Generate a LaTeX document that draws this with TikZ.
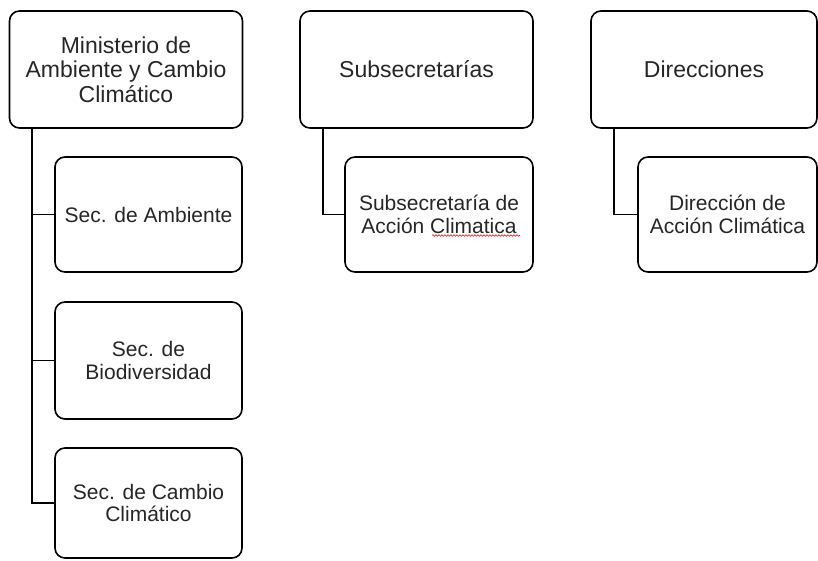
\documentclass[tikz,border=0pt]{standalone}
\usepackage{fontspec}
\setmainfont{Liberation Sans}
\usetikzlibrary{calc,decorations.pathmorphing}
\tikzset{
  box/.style={draw=black, line width=1.6pt, rounded corners=10pt, align=center,
    inner sep=0pt, text=black!85},
  parentbox/.style={box, font=\fontsize{23}{24.5}\selectfont},
  childbox/.style={box, font=\fontsize{21}{22.5}\selectfont},
  link/.style={draw=black, line width=1.6pt},
}
\begin{document}
\begin{tikzpicture}[x=1pt,y=-1pt]
\useasboundingbox (0,0) rectangle (818,560);
% column 1
\node[parentbox, minimum width=233pt, minimum height=117pt] (b1) at (126,69.5)
  {Ministerio de\\Ambiente y Cambio\\Climático};
\node[childbox, minimum width=187pt, minimum height=115pt] (c1) at (148.5,214.5)
  {Sec. de Ambiente};
\node[childbox, minimum width=187pt, minimum height=117pt] (c2) at (148.5,360.5)
  {Sec. de\\Biodiversidad};
\node[childbox, minimum width=187pt, minimum height=110pt] (c3) at (148.5,503)
  {Sec. de Cambio\\Climático};
% column 2
\node[parentbox, minimum width=233pt, minimum height=117pt] (b2) at (416.5,69.5)
  {Subsecretarías};
\node[childbox, minimum width=188pt, minimum height=115pt] (c4) at (439,214.5)
  {Subsecretaría de\\Acción Climatica};
% column 3
\node[parentbox, minimum width=226pt, minimum height=117pt] (b3) at (704,69.5)
  {Direcciones};
\node[childbox, minimum width=179pt, minimum height=115pt] (c5) at (727.5,214.5)
  {Dirección de\\Acción Climática};
% connectors
\draw[link] ($(b1.south west)+(23,0)$) |- (c1.west);
\draw[link] ($(b1.south west)+(23,0)$) |- (c2.west);
\draw[link] ($(b1.south west)+(23,0)$) |- (c3.west);
\draw[link] ($(b2.south west)+(24,0)$) |- (c4.west);
\draw[link] ($(b3.south west)+(24,0)$) |- (c5.west);
% spell-check underline
\draw[red, line width=0.6pt, decorate, decoration={snake, amplitude=0.8pt, segment length=3pt}]
  ($(c4.center)+(-7,21)$) -- ++(88,0);
\end{tikzpicture}
\end{document}
